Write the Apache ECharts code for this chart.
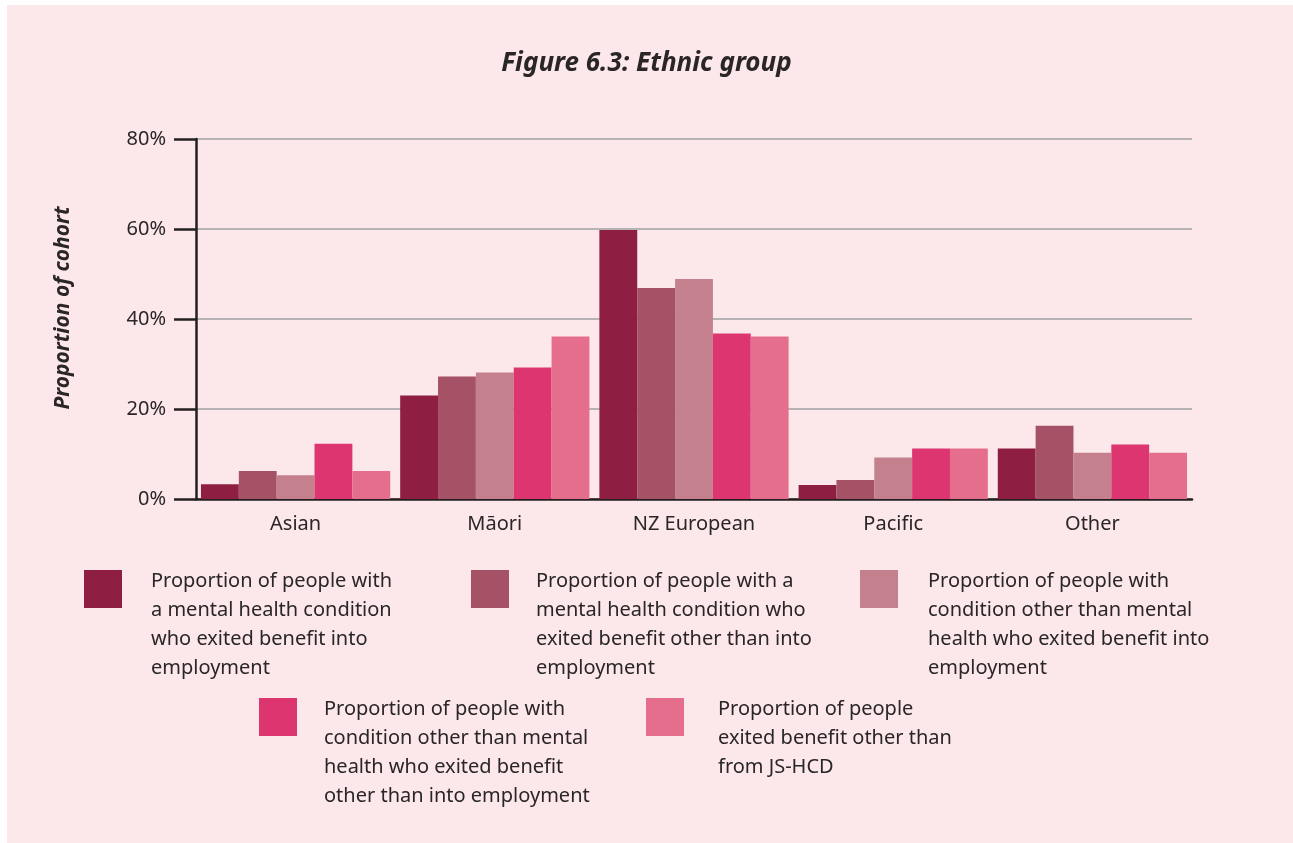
<!DOCTYPE html>
<html>
<head>
<meta charset="utf-8">
<script src="https://cdn.jsdelivr.net/npm/echarts@6/dist/echarts.min.js"></script>
<style>
  html, body { margin: 0; padding: 0; background: #ffffff; }
  #bg { position: absolute; left: 7px; top: 5px; width: 1286px; height: 838px; background: #fce8eb; }
  #chart { position: absolute; left: 0; top: 0; width: 1293px; height: 843px; }
</style>
</head>
<body>
<div id="bg"></div>
<div id="chart"></div>
<script>
  const groups = ['Asian', 'Māori', 'NZ European', 'Pacific', 'Other'];
  const seriesNames = [
    'Proportion of people with\na mental health condition\nwho exited benefit into\nemployment',
    'Proportion of people with a\nmental health condition who\nexited benefit other than into\nemployment',
    'Proportion of people with\ncondition other than mental\nhealth who exited benefit into\nemployment',
    'Proportion of people with\ncondition other than mental\nhealth who exited benefit\nother than into employment',
    'Proportion of people\nexited benefit other than\nfrom JS-HCD'
  ];
  const mhEmployment = [3.3, 23.0, 59.8, 3.1, 11.2];
  const mhOther = [6.2, 27.2, 46.9, 4.2, 16.3];
  const nonMhEmployment = [5.3, 28.1, 48.9, 9.2, 10.3];
  const nonMhOther = [12.3, 29.2, 36.8, 11.2, 12.1];
  const otherExits = [6.2, 36.1, 36.1, 11.2, 10.3];
  const yTicks = [0, 20, 40, 60, 80];

  const values = [mhEmployment, mhOther, nonMhEmployment, nonMhOther, otherExits];
  const colors = ['#8e1e42', '#a55166', '#c4818d', '#dc3570', '#e56e8d'];
  // swatch left, swatch top, extra gap before text
  const legendPos = [[84, 570, 24], [471, 570, 22], [860, 570, 25], [259, 698, 22], [646, 698, 29]];

  const font = '"Noto Sans", sans-serif';
  const textColor = '#2a2627';
  const lineH = 29;

  const chart = echarts.init(document.getElementById('chart'));

  const legends = seriesNames.map((name, i) => {
    const h = name.split('\n').length * lineH;
    // legend text is centred on the swatch; a spacer line pushes it down to the swatch top
    const spacer = h - 45;
    return {
      data: [name],
      left: legendPos[i][0],
      top: legendPos[i][1] + 19 - (spacer + h) / 2,
      padding: 0,
      icon: 'rect',
      itemWidth: 38,
      itemHeight: 38,
      selectedMode: false,
      formatter: n => '{s| }\n' + n,
      textStyle: {
        color: textColor, fontFamily: font, fontSize: 20, lineHeight: lineH,
        padding: [0, 0, 0, legendPos[i][2]],
        rich: { s: { fontSize: 1, lineHeight: spacer } }
      }
    };
  });

  chart.setOption({
    backgroundColor: 'transparent',
    title: {
      text: 'Figure 6.3: Ethnic group',
      left: 'center',
      top: 46,
      textStyle: { color: textColor, fontFamily: font, fontSize: 26, fontWeight: 'bold', fontStyle: 'italic' }
    },
    legend: legends,
    grid: { left: 196, right: 101, top: 139, bottom: 344 },
    xAxis: {
      type: 'category',
      data: groups,
      axisLine: { lineStyle: { color: '#231f20', width: 2.5 } },
      axisTick: { length: 14, lineStyle: { color: '#231f20', width: 2.5 } },
      axisLabel: { color: textColor, fontFamily: font, fontSize: 20, margin: 15 }
    },
    yAxis: {
      type: 'value',
      min: yTicks[0],
      max: yTicks[yTicks.length - 1],
      interval: 20,
      name: 'Proportion of cohort',
      nameLocation: 'middle',
      nameGap: 122,
      nameTextStyle: { color: textColor, fontFamily: font, fontSize: 21, fontWeight: 'bold', fontStyle: 'italic', padding: [0, 0, 0, 22] },
      axisLine: { show: true, lineStyle: { color: '#231f20', width: 2.5 } },
      axisTick: { show: true, length: 22, lineStyle: { color: '#231f20', width: 2.5 } },
      axisLabel: { color: textColor, fontFamily: font, fontSize: 20, margin: 30, formatter: '{value}%' },
      splitLine: { lineStyle: { color: '#a0a0a0', width: 1.5 } }
    },
    series: values.map((v, i) => ({
      name: seriesNames[i],
      type: 'bar',
      data: v,
      barGap: '0%',
      barCategoryGap: '5%',
      itemStyle: { color: colors[i] }
    }))
  });
</script>
</body>
</html>
